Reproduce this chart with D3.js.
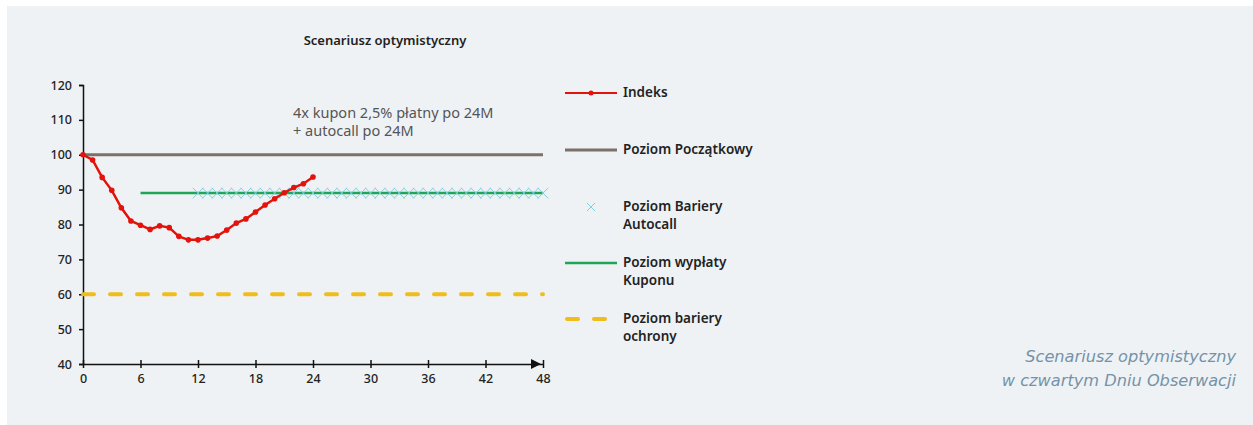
<!DOCTYPE html>
<html>
<head>
<meta charset="utf-8">
<script src="https://cdn.jsdelivr.net/npm/d3@7"></script>
<style>
    body { margin: 0; background: #fff; }
    #chart { width: 1253px; height: 425px; }
    text { font-family: "Noto Sans", sans-serif; }
</style>
</head>
<body>
<div id="chart"></div>
<script>
// months for the index path
const indexMonths = [0, 1, 2, 3, 4, 5, 6, 7, 8, 9, 10, 11, 12, 13, 14, 15, 16, 17, 18, 19, 20, 21, 22, 23, 24];
const indexValues = [100, 98.5, 93.5, 89.8, 84.8, 81, 79.8, 78.6, 79.6, 79.1, 76.6, 75.6, 75.6, 76.1, 76.7, 78.4, 80.4, 81.6, 83.6, 85.6, 87.4, 89.1, 90.6, 91.7, 93.6];

const startLevel = { from: 0, to: 48, value: 100 };
const couponLevel = { from: 6, to: 48, value: 89 };
const protectionLevel = { from: 0, to: 48, value: 60 };
const autocallMonths = d3.range(12, 49);
const autocallValue = 89;

const xTicks = [0, 6, 12, 18, 24, 30, 36, 42, 48];
const yTicks = [40, 50, 60, 70, 80, 90, 100, 110, 120];

const legendItems = [
    { key: 'index', label: ['Indeks'] },
    { key: 'start', label: ['Poziom Początkowy'] },
    { key: 'autocall', label: ['Poziom Bariery', 'Autocall'] },
    { key: 'coupon', label: ['Poziom wypłaty', 'Kuponu'] },
    { key: 'protection', label: ['Poziom bariery', 'ochrony'] }
];

const titleText = 'Scenariusz optymistyczny';
const noteLines = ['4x kupon 2,5% płatny po 24M', '+ autocall po 24M'];
const captionLines = ['Scenariusz optymistyczny', 'w czwartym Dniu Obserwacji'];

const colors = {
    index: '#e3120b',
    start: '#7b706a',
    autocall: '#7fd0e0',
    coupon: '#1ea556',
    protection: '#f0bd1a'
};

const svg = d3.select('#chart').append('svg')
    .attr('width', 1253)
    .attr('height', 425);

svg.append('rect')
    .attr('x', 7).attr('y', 6)
    .attr('width', 1246).attr('height', 419)
    .attr('fill', '#eef2f5');

const x = d3.scaleLinear().domain([0, 48]).range([83, 543]);
const y = d3.scaleLinear().domain([40, 120]).range([364, 85]);

// title
svg.append('text')
    .attr('x', 385).attr('y', 45)
    .attr('text-anchor', 'middle')
    .style('font-size', '13px')
    .style('font-weight', '600')
    .style('fill', '#222')
    .text(titleText);

// axes
const xAxis = svg.append('g')
    .attr('transform', `translate(0,${y(40)})`)
    .call(d3.axisBottom(x).tickValues(xTicks).tickSize(0).tickPadding(10));
xAxis.select('.domain').attr('stroke', '#111').attr('stroke-width', 1.5);
xAxis.selectAll('.tick line').remove();
xAxis.selectAll('.tick').append('line')
    .attr('y1', -4).attr('y2', 4)
    .attr('stroke', '#111').attr('stroke-width', 1.5);
xAxis.selectAll('.tick text')
    .style('font-size', '12.5px').style('font-weight', '500').style('fill', '#222')
    .style('font-family', '"Noto Sans", sans-serif');

// arrow head on x axis
svg.append('path')
    .attr('d', `M${x(48) - 12},${y(40) - 5} L${x(48) - 2},${y(40)} L${x(48) - 12},${y(40) + 5} Z`)
    .attr('fill', '#111');

const yAxis = svg.append('g')
    .attr('transform', `translate(${x(0)},0)`)
    .call(d3.axisLeft(y).tickValues(yTicks).tickSize(4).tickPadding(7));
yAxis.select('.domain').attr('stroke', '#111').attr('stroke-width', 1.5);
yAxis.selectAll('.tick line').attr('stroke', '#111').attr('stroke-width', 1.5);
yAxis.selectAll('.tick text')
    .style('font-size', '12.5px').style('font-weight', '500').style('fill', '#222')
    .style('font-family', '"Noto Sans", sans-serif');

// protection barrier
svg.append('line')
    .attr('x1', x(protectionLevel.from)).attr('x2', x(protectionLevel.to))
    .attr('y1', y(protectionLevel.value)).attr('y2', y(protectionLevel.value))
    .attr('stroke', colors.protection)
    .attr('stroke-width', 4)
    .attr('stroke-linecap', 'round')
    .attr('stroke-dasharray', '11 16');

// start level
svg.append('line')
    .attr('x1', x(startLevel.from)).attr('x2', x(startLevel.to))
    .attr('y1', y(startLevel.value)).attr('y2', y(startLevel.value))
    .attr('stroke', colors.start)
    .attr('stroke-width', 3);

// coupon level
svg.append('line')
    .attr('x1', x(couponLevel.from)).attr('x2', x(couponLevel.to))
    .attr('y1', y(couponLevel.value)).attr('y2', y(couponLevel.value))
    .attr('stroke', colors.coupon)
    .attr('stroke-width', 2.5);

// autocall markers
const cross = d3.symbol().type(d3.symbolX).size(75);
svg.append('g').selectAll('path')
    .data(autocallMonths)
    .join('path')
    .attr('transform', d => `translate(${x(d)},${y(autocallValue)})`)
    .attr('d', cross)
    .attr('fill', 'none')
    .attr('stroke', colors.autocall)
    .attr('stroke-width', 1);

// index
const indexData = indexMonths.map((m, i) => ({ m, v: indexValues[i] }));
const line = d3.line().x(d => x(d.m)).y(d => y(d.v));
svg.append('path')
    .datum(indexData)
    .attr('d', line)
    .attr('fill', 'none')
    .attr('stroke', colors.index)
    .attr('stroke-width', 2.5);
svg.append('g').selectAll('circle')
    .data(indexData)
    .join('circle')
    .attr('cx', d => x(d.m))
    .attr('cy', d => y(d.v))
    .attr('r', 2.8)
    .attr('fill', colors.index);

// note
svg.append('text')
    .style('font-size', '14.5px')
    .style('fill', '#555')
    .selectAll('tspan')
    .data(noteLines)
    .join('tspan')
    .attr('x', 293)
    .attr('y', (d, i) => 118 + i * 18)
    .text(d => d);

// legend
const legendY = [93, 150, 207, 263, 319];
const legend = svg.append('g');
legendItems.forEach((item, i) => {
    const row = legend.append('g').attr('transform', `translate(565,${legendY[i]})`);
    if (item.key === 'index') {
        row.append('line').attr('x1', 0).attr('x2', 52).attr('stroke', colors.index).attr('stroke-width', 2);
        row.append('circle').attr('cx', 26).attr('r', 2.5).attr('fill', colors.index);
    } else if (item.key === 'start') {
        row.append('line').attr('x1', 0).attr('x2', 52).attr('stroke', colors.start).attr('stroke-width', 3);
    } else if (item.key === 'autocall') {
        row.append('path').attr('transform', 'translate(26,0)').attr('d', d3.symbol().type(d3.symbolX).size(45))
            .attr('fill', 'none').attr('stroke', colors.autocall).attr('stroke-width', 1);
    } else if (item.key === 'coupon') {
        row.append('line').attr('x1', 0).attr('x2', 52).attr('stroke', colors.coupon).attr('stroke-width', 2.5);
    } else {
        row.append('line').attr('x1', 2).attr('x2', 40).attr('stroke', colors.protection)
            .attr('stroke-width', 4).attr('stroke-linecap', 'round').attr('stroke-dasharray', '11 16');
    }
    row.append('text')
        .style('font-size', '13.5px')
        .style('font-weight', '600')
        .style('fill', '#222')
        .selectAll('tspan')
        .data(item.label)
        .join('tspan')
        .attr('x', 58)
        .attr('y', (d, j) => j * 18)
        .attr('dy', '0.32em')
        .text(d => d);
});

// caption
svg.append('text')
    .attr('text-anchor', 'end')
    .style('font-family', '"DejaVu Sans", sans-serif')
    .style('font-size', '16.2px')
    .style('font-style', 'italic')
    .style('fill', '#7593a8')
    .selectAll('tspan')
    .data(captionLines)
    .join('tspan')
    .attr('x', 1236)
    .attr('y', (d, i) => 362 + i * 24)
    .text(d => d);
</script>
</body>
</html>
